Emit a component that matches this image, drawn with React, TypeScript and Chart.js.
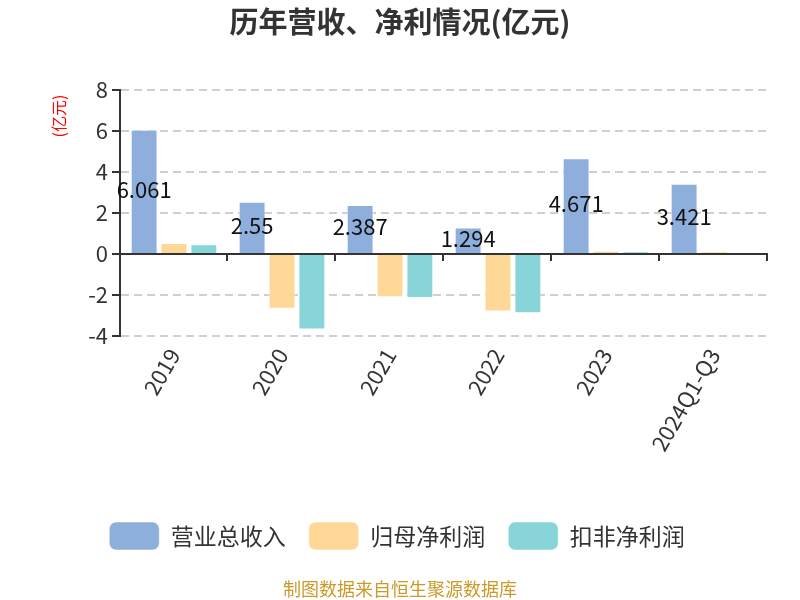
import React, { useEffect, useRef } from "react";
import { Chart, registerables } from "chart.js";

Chart.register(...registerables);

const categories = ["2019", "2020", "2021", "2022", "2023", "2024Q1-Q3"];
const revenue = [6.061, 2.55, 2.387, 1.294, 4.671, 3.421];
const netProfit = [0.54, -2.67, -2.11, -2.8, 0.16, 0.13];
const deductedProfit = [0.48, -3.68, -2.15, -2.89, 0.13, 0.06];
const seriesNames = ["营业总收入", "归母净利润", "扣非净利润"];
const seriesColors = ["#8eaedb", "#ffd797", "#88d5d9"];
const yMin = -4;
const yMax = 8;
const yStep = 2;
const titleText = "历年营收、净利情况(亿元)";
const unitText = "(亿元)";
const footerText = "制图数据来自恒生聚源数据库";

const FONT = '"Noto Sans CJK SC", "Noto Sans", sans-serif';

const decor = {
  id: "decor",
  afterLayout(chart: any) {
    if (chart.legend) {
      chart.legend.left += 13;
      chart.legend.right += 13;
    }
  },
  afterDatasetsDraw(chart: any) {
    const { ctx, chartArea, scales } = chart;
    const y0 = scales.y.getPixelForValue(0);
    ctx.save();
    ctx.strokeStyle = "#333";
    ctx.lineWidth = 2;
    ctx.beginPath();
    ctx.moveTo(chartArea.left, y0);
    ctx.lineTo(chartArea.right, y0);
    ctx.stroke();
    const n = categories.length;
    const w = (chartArea.right - chartArea.left) / n;
    for (let i = 1; i <= n; i++) {
      const x = Math.round(chartArea.left + i * w) - 1;
      ctx.beginPath();
      ctx.moveTo(x, y0);
      ctx.lineTo(x, y0 + 7);
      ctx.stroke();
    }
    const meta = chart.getDatasetMeta(0);
    ctx.fillStyle = "#111";
    ctx.font = `22px ${FONT}`;
    ctx.textAlign = "center";
    ctx.textBaseline = "middle";
    meta.data.forEach((bar: any, i: number) => {
      const yc = (bar.y + bar.base) / 2 - 2;
      ctx.fillText(String(revenue[i]), bar.x, yc);
    });
    ctx.restore();
  },
  afterDraw(chart: any) {
    const { ctx, width, chartArea } = chart;
    ctx.save();
    ctx.fillStyle = "#333";
    ctx.font = `bold 29px ${FONT}`;
    ctx.textAlign = "center";
    ctx.textBaseline = "middle";
    ctx.fillText(titleText, width / 2, 22);
    ctx.fillStyle = "#cc9a2a";
    ctx.font = `18px ${FONT}`;
    ctx.fillText(footerText, width / 2, 589);
    ctx.translate(59, chartArea.top + 26);
    ctx.rotate(-Math.PI / 2);
    ctx.fillStyle = "#ff0000";
    ctx.font = `16px ${FONT}`;
    ctx.fillText(unitText, 0, 0);
    ctx.restore();
  },
};

export default function App() {
  const ref = useRef<HTMLCanvasElement | null>(null);
  useEffect(() => {
    if (!ref.current) return;
    const chart = new Chart(ref.current, {
      type: "bar",
      data: {
        labels: categories,
        datasets: [revenue, netProfit, deductedProfit].map((d, i) => ({
          label: seriesNames[i],
          data: d,
          backgroundColor: seriesColors[i],
          borderColor: "rgba(255,255,255,0.5)",
          borderWidth: 1,
          categoryPercentage: 0.83,
          barPercentage: 0.9,
        })),
      },
      options: {
        responsive: false,
        animation: false,
        layout: { padding: { top: 90, right: 32, left: 0, bottom: 40 } },
        plugins: {
          title: { display: false },
          tooltip: { enabled: false },
          legend: {
            position: "bottom",
            labels: {
              boxWidth: 50,
              boxHeight: 28,
              useBorderRadius: true,
              borderRadius: 7,
              padding: 23,
              color: "#333",
              font: { size: 23, family: FONT },
            },
          },
        },
        scales: {
          x: {
            grid: { display: false },
            border: { display: false },
            ticks: {
              color: "#333",
              font: { size: 22, family: FONT },
              minRotation: 60,
              maxRotation: 60,
              padding: 0,
              autoSkip: false,
            },
            afterFit(scale: any) {
              scale.height = 163;
            },
          },
          y: {
            min: yMin,
            max: yMax,
            ticks: {
              stepSize: yStep,
              color: "#333",
              font: { size: 22, family: FONT },
              padding: 4,
            },
            grid: {
              color: (c: any) => (c.tick && c.tick.value === 0 ? "rgba(0,0,0,0)" : "#cfcfcf"),
              lineWidth: 2,
              tickColor: "#333",
              tickLength: 8,
            },
            border: { display: true, color: "#333", width: 2, dash: [8, 5] },
            afterFit(scale: any) {
              scale.width = 120;
            },
          },
        },
      },
      plugins: [decor],
    });
    return () => chart.destroy();
  }, []);
  return (
    <div style={{ position: "absolute", left: 0, top: 0, width: 800, height: 600 }}>
      <canvas ref={ref} width={800} height={600} style={{ width: 800, height: 600 }} />
    </div>
  );
}
